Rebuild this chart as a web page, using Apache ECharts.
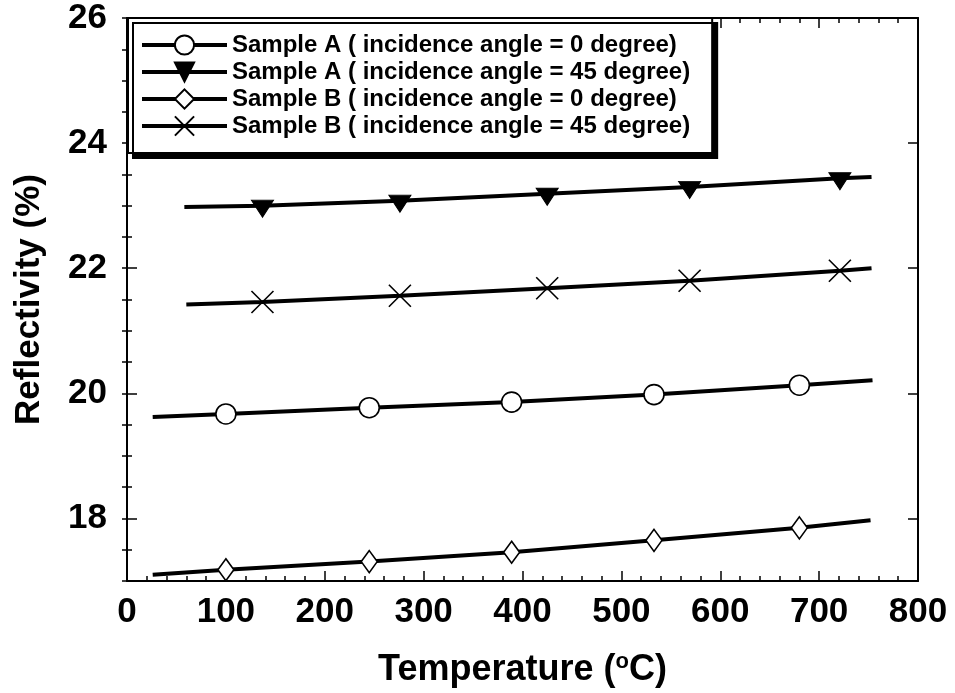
<!DOCTYPE html>
<html><head><meta charset="utf-8">
<script src="https://cdn.jsdelivr.net/npm/echarts@6/dist/echarts.min.js"></script>
<style>html,body{margin:0;padding:0;background:#fff}#c{width:955px;height:693px}</style>
</head><body><div id="c"></div>
<script>
// Series names
const names = [
  'Sample A ( incidence angle = 0 degree)',
  'Sample A ( incidence angle = 45 degree)',
  'Sample B ( incidence angle = 0 degree)',
  'Sample B ( incidence angle = 45 degree)'
];
// Measurement temperatures (°C)
const temps0 = [100, 245, 389, 533, 680];
const temps45 = [137, 276, 425, 569, 721];
// Reflectivity (%)
const reflA0 = [19.67, 19.77, 19.86, 19.98, 20.13];
const reflA45 = [23.00, 23.08, 23.19, 23.30, 23.44];
const reflB0 = [17.18, 17.31, 17.46, 17.65, 17.85];
const reflB45 = [21.46, 21.56, 21.68, 21.80, 21.96];
// Fitted line end points [temperature, reflectivity]
const fitA0 = [[26, 19.62], [754, 20.21]];
const fitA45 = [[58, 22.98], [753, 23.46]];
const fitB0 = [[26, 17.10], [752, 17.97]];
const fitB45 = [[60, 21.42], [753, 22.00]];
// Axis ticks
const xTicks = [0, 100, 200, 300, 400, 500, 600, 700, 800];
const yMajor = [18, 20, 22, 24, 26];

const FONT = '"Liberation Sans", Arial, sans-serif';

function build(fit, xs, ys) {
  const d = [{ value: fit[0], symbol: 'none' }];
  xs.forEach((x, i) => d.push([x, ys[i]]));
  d.push({ value: fit[1], symbol: 'none' });
  return d;
}

const markStyle = { color: '#fff', borderColor: '#000', borderWidth: 1.6 };
function series(name, data, symbol, size, extra) {
  return Object.assign({
    name, type: 'line', data, symbol, symbolSize: size,
    showAllSymbol: true,
    lineStyle: { color: '#000', width: 4 },
    itemStyle: markStyle,
    emphasis: { disabled: true },
    z: 3
  }, extra || {});
}

const tickStyle = { color: '#000', width: 1.5 };
const lineStyleAx = { color: '#000', width: 2 };

const chart = echarts.init(document.getElementById('c'), null, { renderer: 'canvas' });
chart.setOption({
  animation: false,
  backgroundColor: '#fff',
  grid: { left: 127, right: 37, top: 18, bottom: 105, containLabel: false },
  legend: {
    data: names,
    left: 128, top: 18,
    orient: 'vertical',
    padding: [15, 22, 15, 12],
    itemWidth: 85, itemHeight: 24, itemGap: 3,
    backgroundColor: '#fff',
    borderColor: '#000', borderWidth: 2,
    shadowColor: '#000', shadowOffsetX: 5, shadowOffsetY: 5, shadowBlur: 0,
    lineStyle: { width: 4, color: '#000' },
    textStyle: { fontFamily: FONT, fontSize: 24, fontWeight: 'bold', color: '#000' },
    selectedMode: false,
    z: 10
  },
  xAxis: [
    {
      type: 'value', position: 'bottom', min: 0, max: 800, interval: 100,
      axisLine: { show: true, onZero: false, lineStyle: lineStyleAx },
      axisTick: { show: true, inside: true, length: 10, lineStyle: tickStyle },
      minorTick: { show: true, splitNumber: 5, length: 5, lineStyle: tickStyle },
      splitLine: { show: false },
      axisLabel: { fontFamily: FONT, fontSize: 35, fontWeight: 'bold', color: '#000', margin: 14,
        customValues: xTicks },
      name: '{a|Temperature (}{s|o}{a|C)}',
      nameLocation: 'middle', nameGap: 70,
      nameTextStyle: { rich: {
        a: { fontFamily: FONT, fontSize: 36, fontWeight: 'bold', color: '#000' },
        s: { fontFamily: FONT, fontSize: 22, fontWeight: 'bold', color: '#000', padding: [0, 0, 16, 0] }
      } }
    },
    {
      type: 'value', position: 'top', min: 0, max: 800, interval: 100,
      axisLine: { show: true, onZero: false, lineStyle: lineStyleAx },
      axisTick: { show: true, inside: true, length: 10, lineStyle: tickStyle },
      minorTick: { show: true, splitNumber: 5, length: 5, lineStyle: tickStyle },
      splitLine: { show: false },
      axisLabel: { show: false }
    }
  ],
  yAxis: [
    {
      type: 'value', position: 'left', min: 17, max: 26,
      axisLine: { show: true, onZero: false, lineStyle: lineStyleAx },
      axisTick: { show: true, inside: true, length: 10, lineStyle: tickStyle, customValues: yMajor },
      splitLine: { show: false },
      axisLabel: { fontFamily: FONT, fontSize: 35, fontWeight: 'bold', color: '#000', margin: 20, customValues: yMajor },
      name: 'Reflectivity (%)',
      nameLocation: 'middle', nameGap: 80, nameRotate: 90,
      nameTextStyle: { fontFamily: FONT, fontSize: 35, fontWeight: 'bold', color: '#000' }
    },
    {
      type: 'value', position: 'left', min: 17, max: 26, interval: 0.5,
      axisLine: { show: false },
      axisTick: { show: true, inside: true, length: 5, lineStyle: tickStyle },
      splitLine: { show: false }, axisLabel: { show: false }
    },
    {
      type: 'value', position: 'right', min: 17, max: 26,
      axisLine: { show: true, onZero: false, lineStyle: lineStyleAx },
      axisTick: { show: true, inside: true, length: 10, lineStyle: tickStyle, customValues: yMajor },
      splitLine: { show: false }, axisLabel: { show: false }
    },
    {
      type: 'value', position: 'right', min: 17, max: 26, interval: 0.5,
      axisLine: { show: false },
      axisTick: { show: true, inside: true, length: 5, lineStyle: tickStyle },
      splitLine: { show: false }, axisLabel: { show: false }
    }
  ],
  series: [
    series(names[0], build(fitA0, temps0, reflA0), 'circle', 20),
    series(names[1], build(fitA45, temps45, reflA45), 'triangle', [22, 17],
      { symbolRotate: 180, symbolOffset: [0, 3], itemStyle: { color: '#000', borderColor: '#000', borderWidth: 1 } }),
    series(names[2], build(fitB0, temps0, reflB0), 'diamond', [16, 22]),
    series(names[3], build(fitB45, temps45, reflB45), 'path://M0,0L20,20M20,0L0,20', 22)
  ]
});
</script></body></html>
